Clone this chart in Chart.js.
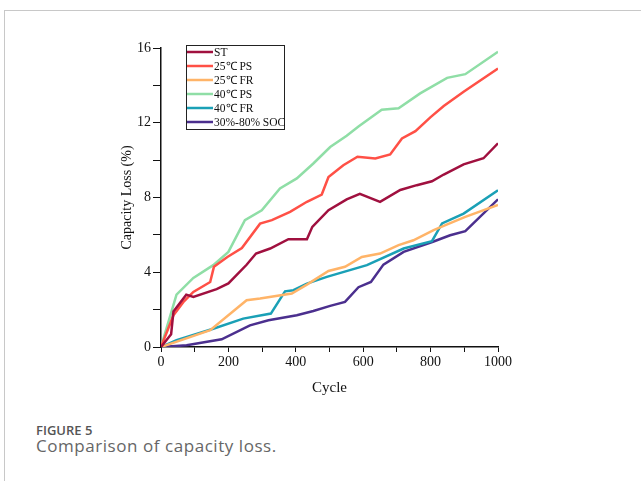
<!DOCTYPE html>
<html>
<head>
<meta charset="utf-8">
<script src="https://cdn.jsdelivr.net/npm/chart.js@4.4.0/dist/chart.umd.min.js"></script>
<style>
body{margin:0;background:#fff;width:641px;height:481px;overflow:hidden;position:relative;font-family:"Open Sans",sans-serif}
#frame{position:absolute;left:4px;top:10px;right:0;bottom:0;border-left:1px solid #c8c8c8;border-top:1px solid #c8c8c8}
#wrap{position:absolute;left:0;top:0;width:641px;height:400px}
.fig{position:absolute;left:36px;top:421px;font-size:13px;font-weight:600;color:#555}
.cap{position:absolute;left:36px;top:434px;font-size:17px;letter-spacing:0.55px;color:#666}
</style>
</head>
<body>
<div id="frame"></div>
<div id="wrap"><canvas id="myChart"></canvas></div>
<div class="fig">FIGURE 5</div>
<div class="cap">Comparison of capacity loss.</div>
<script>
// series labels and colours
const labels = ['ST', '25\u2103 PS', '25\u2103 FR', '40\u2103 PS', '40\u2103 FR', '30%-80% SOC'];
const colors = ['#a0103f', '#ff5046', '#ffb468', '#8fdea6', '#1aa0b6', '#4b2f8e'];

// values (cycle, capacity loss %)
const stCycle = [0, 30, 37, 75, 96, 165, 200, 254, 282, 324, 378, 433, 449, 497, 551, 590, 650, 710, 759, 804, 839, 898, 957, 1000];
const stLoss = [0, 0.68, 1.9, 2.8, 2.68, 3.1, 3.4, 4.4, 5.0, 5.27, 5.77, 5.77, 6.43, 7.32, 7.9, 8.2, 7.77, 8.4, 8.66, 8.87, 9.23, 9.77, 10.1, 10.9];

const ps25Cycle = [0, 37, 66, 96, 146, 157, 197, 240, 294, 329, 383, 433, 477, 497, 541, 583, 636, 680, 715, 755, 800, 839, 898, 1000];
const ps25Loss = [0, 1.7, 2.4, 2.95, 3.48, 4.29, 4.82, 5.3, 6.6, 6.79, 7.23, 7.77, 8.16, 9.1, 9.73, 10.18, 10.09, 10.3, 11.16, 11.55, 12.3, 12.9, 13.66, 14.9];

const fr25Cycle = [0, 146, 254, 294, 388, 433, 497, 546, 596, 650, 705, 749, 809, 844, 903, 1000];
const fr25Loss = [0, 0.9, 2.5, 2.59, 2.86, 3.34, 4.07, 4.29, 4.82, 5.0, 5.45, 5.71, 6.25, 6.52, 6.96, 7.6];

const ps40Cycle = [0, 46, 96, 155, 200, 249, 299, 353, 403, 452, 502, 551, 586, 655, 705, 769, 849, 903, 1000];
const ps40Loss = [0, 2.8, 3.7, 4.38, 5.09, 6.79, 7.32, 8.48, 9.02, 9.82, 10.7, 11.3, 11.8, 12.7, 12.77, 13.57, 14.4, 14.6, 15.8];

const fr40Cycle = [0, 46, 155, 244, 326, 368, 393, 433, 492, 611, 720, 804, 834, 898, 1000];
const fr40Loss = [0, 0.36, 0.98, 1.52, 1.79, 2.98, 3.04, 3.39, 3.75, 4.38, 5.27, 5.66, 6.61, 7.14, 8.39];

const socCycle = [0, 76, 180, 264, 319, 403, 452, 502, 546, 586, 623, 660, 720, 807, 858, 903, 1000];
const socLoss = [0, 0.09, 0.41, 1.16, 1.43, 1.7, 1.93, 2.2, 2.41, 3.2, 3.48, 4.41, 5.09, 5.63, 5.98, 6.2, 7.9];

const cycles = [stCycle, ps25Cycle, fr25Cycle, ps40Cycle, fr40Cycle, socCycle];
const losses = [stLoss, ps25Loss, fr25Loss, ps40Loss, fr40Loss, socLoss];

const serif = '"Liberation Serif", "Times New Roman", serif';

// legend box drawn inside the plot, like the original
const legendBox = {
  id: 'legendBox',
  afterDatasetsDraw(chart) {
    const ctx = chart.ctx;
    const area = chart.chartArea;
    const x0 = area.left + 25, y0 = area.top - 3;
    const w = 98, h = 84;
    ctx.save();
    ctx.fillStyle = '#fff';
    ctx.fillRect(x0, y0, w, h);
    ctx.strokeStyle = '#222';
    ctx.lineWidth = 1;
    ctx.strokeRect(x0 + 0.5, y0 + 0.5, w, h);
    ctx.font = '11.5px ' + serif;
    ctx.textBaseline = 'middle';
    chart.data.datasets.forEach((ds, i) => {
      const y = y0 + 7 + i * 14;
      ctx.strokeStyle = ds.borderColor;
      ctx.lineWidth = 2.5;
      ctx.beginPath();
      ctx.moveTo(x0 + 1, y);
      ctx.lineTo(x0 + 27, y);
      ctx.stroke();
      ctx.fillStyle = '#111';
      ctx.fillText(ds.label, x0 + 28, y + 1);
    });
    ctx.restore();
  }
};

new Chart('myChart', {
  type: 'line',
  data: {
    datasets: labels.map((l, i) => ({
      label: l,
      data: cycles[i].map((c, j) => ({ x: c, y: losses[i][j] })),
      borderColor: colors[i],
      backgroundColor: colors[i],
      borderWidth: 2.5,
      pointRadius: 0,
      tension: 0,
      fill: false
    }))
  },
  options: {
    responsive: true,
    maintainAspectRatio: false,
    animation: false,
    layout: { padding: { left: 115, right: 143, top: 48, bottom: 0 } },
    plugins: { legend: { display: false }, tooltip: { enabled: false } },
    scales: {
      x: {
        type: 'linear',
        min: 0, max: 1000,
        afterFit: s => { s.height = 53; },
        border: { color: '#111', width: 1.5 },
        grid: { drawOnChartArea: false, tickLength: 5, color: '#111' },
        ticks: {
          stepSize: 100, maxRotation: 0, padding: 2, color: '#111',
          font: { family: serif, size: 14 },
          callback: v => (v % 200 === 0 ? v : '')
        },
        title: { display: true, text: 'Cycle', color: '#111', font: { family: serif, size: 15 }, padding: { top: 2, bottom: 3 } }
      },
      y: {
        min: 0, max: 16,
        afterFit: s => { s.width = 46; },
        border: { color: '#111', width: 1.5 },
        grid: { drawOnChartArea: false, tickLength: 8, color: '#111' },
        ticks: {
          stepSize: 2, padding: 2, color: '#111',
          font: { family: serif, size: 14 },
          callback: v => (v % 4 === 0 ? v : '')
        },
        title: { display: true, text: 'Capacity Loss (%)', color: '#111', font: { family: serif, size: 14 }, padding: { top: 4, bottom: 4 } }
      }
    }
  },
  plugins: [legendBox]
});
</script>
</body>
</html>
